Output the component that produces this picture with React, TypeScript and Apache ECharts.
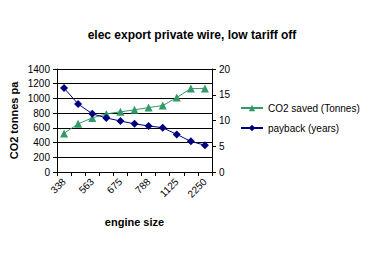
import React, { useEffect, useRef } from "react";
import * as echarts from "echarts";

const categories = ["338", "450", "563", "619", "675", "731", "788", "900", "1125", "1688", "2250"];
const co2Saved = [525, 655, 735, 790, 818, 845, 876, 903, 1012, 1134, 1134];
const payback = [16.3, 13.2, 11.3, 10.5, 9.9, 9.35, 8.95, 8.6, 7.3, 5.95, 5.2];
const leftTicks = { min: 0, max: 1400, interval: 200 };
const rightTicks = { min: 0, max: 20, interval: 5 };

const FONT = "Liberation Sans, Arial, sans-serif";

export default function App() {
  const ref = useRef<HTMLDivElement>(null);
  useEffect(() => {
    if (!ref.current) return;
    const chart = echarts.init(ref.current, null, { renderer: "svg" });
    chart.setOption({
      animation: false,
      backgroundColor: "#ffffff",
      textStyle: { fontFamily: FONT },
      title: {
        text: "elec export private wire, low tariff off",
        left: 187,
        textAlign: "center",
        top: 24,
        textStyle: { fontFamily: FONT, fontSize: 12, fontWeight: "bold", color: "#000" },
      },
      grid: { left: 57, right: 168, top: 69, bottom: 82, containLabel: false },
      legend: {
        orient: "vertical",
        left: 235,
        top: 98,
        itemGap: 10,
        itemWidth: 22,
        itemHeight: 8,
        textStyle: { fontFamily: FONT, fontSize: 10, color: "#000" },
        data: ["CO2 saved (Tonnes)", "payback (years)"],
      },
      xAxis: {
        type: "category",
        data: categories,
        boundaryGap: true,
        name: "engine size",
        nameLocation: "middle",
        nameGap: 44,
        nameTextStyle: { fontFamily: FONT, fontSize: 11, fontWeight: "bold", color: "#000" },
        axisLine: { lineStyle: { color: "#000", width: 1 } },
        axisTick: { show: true, interval: 0, alignWithLabel: false, length: 4, lineStyle: { color: "#000" } },
        axisLabel: {
          interval: 1,
          rotate: 45,
          fontFamily: FONT,
          fontSize: 10,
          color: "#000",
          margin: 8,
        },
      },
      yAxis: [
        {
          type: "value",
          ...leftTicks,
          name: "CO2 tonnes pa",
          nameLocation: "middle",
          nameGap: 38,
          nameRotate: 90,
          nameTextStyle: { fontFamily: FONT, fontSize: 11, fontWeight: "bold", color: "#000" },
          axisLine: { show: true, lineStyle: { color: "#000" } },
          axisTick: { show: true, inside: false, length: 4, lineStyle: { color: "#000" } },
          axisLabel: { fontFamily: FONT, fontSize: 10, color: "#000", margin: 7, formatter: (v: number) => String(v) },
          splitLine: { show: true, lineStyle: { color: "#000", width: 1 } },
        },
        {
          type: "value",
          ...rightTicks,
          position: "right",
          axisLine: { show: true, lineStyle: { color: "#000" } },
          axisTick: { show: true, inside: false, length: 4, lineStyle: { color: "#000" } },
          axisLabel: { fontFamily: FONT, fontSize: 10, color: "#000", margin: 7, formatter: (v: number) => String(v) },
          splitLine: { show: false },
        },
      ],
      series: [
        {
          name: "CO2 saved (Tonnes)",
          type: "line",
          yAxisIndex: 0,
          data: co2Saved,
          symbol: "triangle",
          symbolSize: 8,
          itemStyle: { color: "#339966" },
          lineStyle: { color: "#339966", width: 1 },
        },
        {
          name: "payback (years)",
          type: "line",
          yAxisIndex: 1,
          data: payback,
          symbol: "diamond",
          symbolSize: 8,
          itemStyle: { color: "#000080" },
          lineStyle: { color: "#000080", width: 1 },
        },
      ],
    });
    return () => chart.dispose();
  }, []);
  return <div ref={ref} style={{ width: 380, height: 254, margin: -8 }} />;
}
